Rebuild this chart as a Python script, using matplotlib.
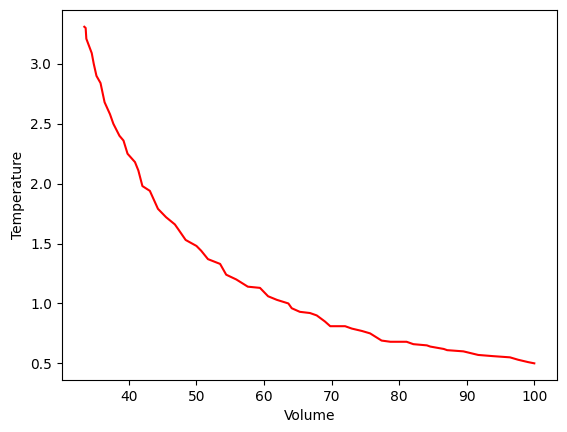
import matplotlib
matplotlib.use('Agg')
import matplotlib.pyplot as plt

# values
volume = [33.4, 33.6, 33.7, 34.5, 34.8, 35.2, 35.8, 36.4, 37.2, 37.7, 38.6, 39.2,
          39.8, 40.9, 41.4, 42.0, 43.1, 44.3, 45.5, 46.8, 47.3, 48.4, 50.0, 50.7,
          51.7, 53.5, 54.4, 55.9, 57.6, 59.4, 60.6, 61.9, 63.6, 64.1, 65.3, 66.8,
          67.8, 69.0, 69.8, 72.0, 73.0, 74.5, 75.7, 77.4, 78.7, 81.1, 82.1, 84.1,
          84.6, 86.6, 87.1, 89.5, 91.7, 93.9, 96.4, 97.6, 99.1, 100.0]
temperature = [3.31, 3.30, 3.21, 3.09, 3.00, 2.90, 2.84, 2.68, 2.58, 2.50, 2.40, 2.36,
               2.25, 2.18, 2.11, 1.98, 1.94, 1.79, 1.72, 1.66, 1.62, 1.53, 1.48, 1.44,
               1.37, 1.33, 1.24, 1.20, 1.14, 1.13, 1.06, 1.03, 1.00, 0.96, 0.93, 0.92,
               0.90, 0.85, 0.81, 0.81, 0.79, 0.77, 0.75, 0.69, 0.68, 0.68, 0.66, 0.65,
               0.64, 0.62, 0.61, 0.60, 0.57, 0.56, 0.55, 0.53, 0.51, 0.50]

fig, ax = plt.subplots(figsize=(5.67, 4.32), dpi=100)
fig.subplots_adjust(left=0.109, right=0.982, bottom=0.120, top=0.977)

ax.plot(volume, temperature, color='red')
ax.set_xlabel('Volume')
ax.set_ylabel('Temperature')

plt.savefig('out.png', dpi=100)
plt.close()
